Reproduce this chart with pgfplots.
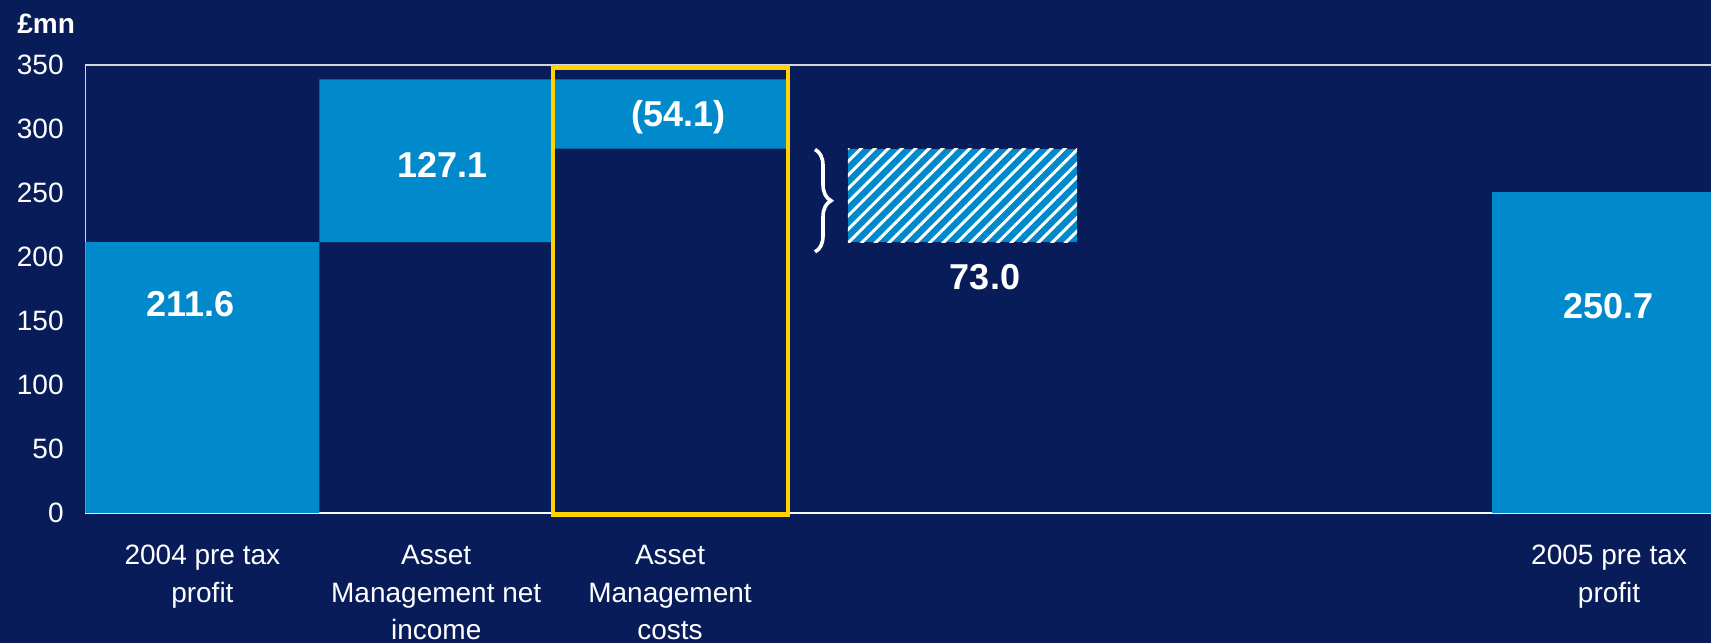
\documentclass[border=0pt]{standalone}
\usepackage{fontspec}
\setmainfont{Liberation Sans}
\usepackage{pgfplots}
\pgfplotsset{compat=1.18}
\usetikzlibrary{patterns.meta,decorations.pathreplacing}
\definecolor{navy}{HTML}{091C5A}
\definecolor{barblue}{HTML}{008ACB}
\definecolor{ygold}{HTML}{FFD200}
\definecolor{axgray}{HTML}{D4D6E0}

\begin{document}
\begin{tikzpicture}
\fill[navy] (-42.75pt,-65pt) rectangle (812.75pt,256.5pt);
\begin{axis}[
  at={(0,0)}, anchor=south west,
  scale only axis, width=812.75pt, height=224pt,
  xmin=-0.5, xmax=6.452, ymin=0, ymax=350,
  ybar stacked, bar width=1,
  axis lines*=left,
  x axis line style={white!88!axgray, line width=1.4pt},
  y axis line style={axgray, line width=0.8pt},
  ytick={0,50,...,350},
  xtick={0,1,2,6.016},
  xticklabels={{2004 pre tax\\profit},{Asset\\Management net\\income},{Asset\\Management\\costs},{2005 pre tax\\profit}},
  major tick length=0pt,
  /pgf/number format/assume math mode=true,
  tick label style={font=\fontsize{14}{18.75}\selectfont, text=white},
  xticklabel style={anchor=north, align=center, inner sep=0pt, yshift=-16pt},
  yticklabel style={anchor=east, inner sep=0pt, xshift=-10.75pt},
  clip mode=individual,
]
% invisible base of the floating bars
\addplot[draw=none, fill=none] coordinates {(0,0) (1,211.6) (2,284.6) (3.251,211.6) (6.016,0)};
% visible blue segments
\addplot[draw=none, fill=barblue] coordinates {(0,211.6) (1,127.1) (2,54.1) (3.251,0) (6.016,250.7)};
% hatched segment
\addplot[draw=none, fill=barblue, bar width=0.98,
  postaction={pattern={Lines[angle=45,distance=4.8pt,line width=1.5pt]}, pattern color=white}]
  coordinates {(0,0) (1,0) (2,0) (3.251,73.0) (6.016,0)};

\draw[axgray, line width=0.8pt] (rel axis cs:0,1) -- (rel axis cs:1,1);
\coordinate (yb1) at (axis cs:1.4996,-1.2);
\coordinate (yb2) at (axis cs:2.505,348);
\coordinate (br1) at (axis cs:2.62,284);
\coordinate (br2) at (axis cs:2.62,204);
\coordinate (v1) at (axis cs:-0.049,153.4);
\coordinate (v2) at (axis cs:1.027,262);
\coordinate (v3) at (axis cs:2.038,302);
\coordinate (v4) at (axis cs:3.347,174.8);
\coordinate (v5) at (axis cs:6.012,152.1);
\end{axis}
\draw[ygold, line width=2.3pt] (yb1) rectangle (yb2);
\draw[white, line width=1.8pt, decorate, decoration={brace, amplitude=8pt}] (br1) -- (br2);
\tikzset{vl/.style={anchor=base, text=white, inner sep=0pt, font=\bfseries\fontsize{18}{22}\selectfont}}
\node[vl] at (v1) {211.6};
\node[vl] at (v2) {127.1};
\node[vl] at (v3) {(54.1)};
\node[vl] at (v4) {73.0};
\node[vl] at (v5) {250.7};
\node[anchor=base west, inner sep=0pt, text=white, font=\bfseries\fontsize{14}{17}\selectfont] at (-34.25pt,239.5pt) {£mn};
\pgfresetboundingbox
\useasboundingbox (-42.75pt,-65pt) rectangle (812.75pt,256.5pt);
\end{tikzpicture}
\end{document}
